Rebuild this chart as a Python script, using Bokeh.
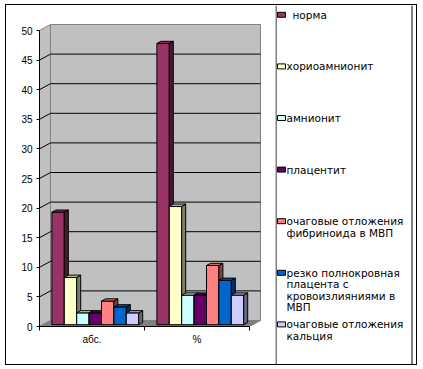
from bokeh.plotting import figure
from bokeh.layouts import row
from bokeh.models import Range1d, FixedTicker, LinearAxis, ColumnDataSource
from bokeh.core.properties import value
from bokeh.embed import file_html
from bokeh.resources import INLINE

# ---------------- data ----------------
categories = ["абс.", "%"]
series_names = [
    "норма",
    "хориоамнионит",
    "амнионит",
    "плацентит",
    "очаговые отложения фибриноида в МВП",
    "резко полнокровная плацента с кровоизлияниями в МВП",
    "очаговые отложения кальция",
]
legend_lines = [
    ["норма"],
    ["хориоамнионит"],
    ["амнионит"],
    ["плацентит"],
    ["очаговые отложения", "фибриноида в      МВП"],
    ["резко полнокровная", "плацента с", "кровоизлияниями в", "МВП"],
    ["очаговые отложения", "кальция"],
]
abs_values = [19, 8, 2, 2, 4, 3, 2]
pct_values = [47.5, 20, 5, 5, 10, 7.5, 5]
colors = ["#993366", "#FFFFCC", "#CCFFFF", "#660066", "#FF8080", "#0066CC", "#CCCCFF"]
y_ticks = [0, 5, 10, 15, 20, 25, 30, 35, 40, 45, 50]

# ---------------- layout geometry (page px) ----------------
BOX_L, BOX_T, BOX_R, BOX_B = 6, 5, 416, 364   # content box; the 1px outline sits just outside
LEG_X = 275                                     # legend panel starts
CHART_R = 411.5                                 # right edge of the chart-area border
X0P, XPX = 39, 105.0         # page x of x=0, px per category
Y0P, YPX = 326, 5.92         # page y of y=0, px per unit

DXW, DYW = 11 / XPX, 6 / YPX          # wall depth
BW = 12.4 / XPX                        # bar width
BDX, BDY = 3.3 / XPX, 1.8 / YPX        # bar front-face depth offset
SDX, SDY = 4 / XPX, 2.2 / YPX          # bar depth


def shade(c, f):
    r, g, b = int(c[1:3], 16), int(c[3:5], 16), int(c[5:7], 16)
    return "#%02x%02x%02x" % (int(r * f), int(g * f), int(b * f))


# ---------------- main chart ----------------
main_w = LEG_X - BOX_L
box_h = BOX_B - BOX_T
x_end = (LEG_X - X0P) / XPX
y_end = (Y0P - BOX_T) / YPX
p = figure(width=main_w, height=box_h, x_range=Range1d(0, x_end), y_range=Range1d(0, y_end),
           x_axis_type=None, y_axis_type=None, title=None,
           toolbar_location=None, output_backend="svg",
           min_border_left=X0P - BOX_L, min_border_right=0,
           min_border_top=0, min_border_bottom=BOX_B - Y0P)
p.frame_align = False
p.outline_line_color = None
p.background_fill_color = "white"
p.border_fill_color = "white"

yaxis = LinearAxis(ticker=FixedTicker(ticks=y_ticks), bounds=(0, 50),
                   major_tick_out=3, major_tick_in=0, minor_tick_out=0, minor_tick_in=0,
                   axis_line_color="black", major_tick_line_color="black",
                   major_label_text_font="Liberation Sans", major_label_text_font_size="10px",
                   major_label_text_color="black", major_label_standoff=4)
p.add_layout(yaxis, "left")

xaxis = LinearAxis(ticker=FixedTicker(ticks=[0.5, 1.5], minor_ticks=[0, 1, 2]), bounds=(0, 2),
                   major_tick_out=0, major_tick_in=0, minor_tick_out=4, minor_tick_in=0,
                   minor_tick_line_color="black", axis_line_color="black",
                   major_label_overrides={0.5: categories[0], 1.5: categories[1]},
                   major_label_text_font="Liberation Sans", major_label_text_font_size="10px",
                   major_label_text_color="black", major_label_standoff=3)
p.add_layout(xaxis, "below")

n_cat = len(categories)
top_v = y_ticks[-1]
# side wall, back wall, gridlines, floor
p.patch([0, 0, DXW, DXW], [0, top_v, top_v + DYW, DYW],
        fill_color="#C0C0C0", line_color="#808080", line_width=1)
p.quad(left=[DXW], right=[n_cat + DXW], bottom=[DYW], top=[top_v + DYW],
       fill_color="#C0C0C0", line_color="#808080", line_width=1)
gx, gy = [], []
for v in y_ticks[1:-1]:
    gx.append([0, DXW, n_cat + DXW])
    gy.append([v, v + DYW, v + DYW])
p.multi_line(gx, gy, line_color="black", line_width=1)
p.patch([0, n_cat, n_cat + DXW, DXW], [0, 0, DYW, DYW],
        fill_color="#808080", line_color="#808080", line_width=1)

# 3D bars
xs, ys, fills = [], [], []
nser = len(series_names)
for c, vals in enumerate([abs_values, pct_values]):
    for i, v in enumerate(vals):
        x0 = c + (1 - nser * BW) / 2 + BDX + i * BW
        x1 = x0 + BW
        y0, y1 = BDY, v + BDY
        xs.append([x0, x1, x1, x0]); ys.append([y0, y0, y1, y1]); fills.append(colors[i])
        xs.append([x1, x1 + SDX, x1 + SDX, x1]); ys.append([y0, y0 + SDY, y1 + SDY, y1])
        fills.append(shade(colors[i], 0.5))
        xs.append([x0, x1, x1 + SDX, x0 + SDX]); ys.append([y1, y1, y1 + SDY, y1 + SDY])
        fills.append(shade(colors[i], 0.85))
src = ColumnDataSource(dict(xs=xs, ys=ys, fill=fills))
p.patches("xs", "ys", source=src, fill_color="fill", line_color="black", line_width=1)

# ---------------- legend panel ----------------
leg_w = BOX_R - LEG_X
leg = figure(width=leg_w, height=box_h, x_range=Range1d(LEG_X, BOX_R), y_range=Range1d(BOX_B, BOX_T),
             x_axis_type=None, y_axis_type=None, title=None,
             toolbar_location=None, output_backend="svg", min_border=0)
leg.frame_align = False
leg.outline_line_color = None
leg.background_fill_color = "white"
leg.border_fill_color = "white"
# legend box left edge and chart-area right edge
leg.segment(x0=[LEG_X + 0.5, CHART_R], y0=[BOX_T, BOX_T], x1=[LEG_X + 0.5, CHART_R], y1=[BOX_B, BOX_B],
            line_color="black", line_width=1)

slot0, slot_step, line_h = 14.3, 51.6, 11.5
sq_l, sq_r, sq_h = LEG_X + 2, LEG_X + 10, 5
cys = [slot0 + i * slot_step for i in range(len(legend_lines))]
leg.quad(left=[sq_l] * len(cys), right=[sq_r] * len(cys),
         top=[cy - sq_h / 2 for cy in cys], bottom=[cy + sq_h / 2 for cy in cys],
         fill_color=colors, line_color="black", line_width=1)

tx, ty, tt = [], [], []
for i, lines in enumerate(legend_lines):
    for k, t in enumerate(lines):
        tx.append(LEG_X + (17 if i == 0 else 11))
        ty.append(cys[i] + k * line_h)
        tt.append(t)
leg.text(x=tx, y=ty, text=tt, text_font=value("DejaVu Sans"), text_font_size=value("10.5px"),
         text_baseline="middle", text_align="left", text_color="black")

layout = row(p, leg, margin=(BOX_T, 0, 0, BOX_L), styles={"outline": "1px solid black"})
open("out.html", "w").write(file_html(layout, INLINE))
